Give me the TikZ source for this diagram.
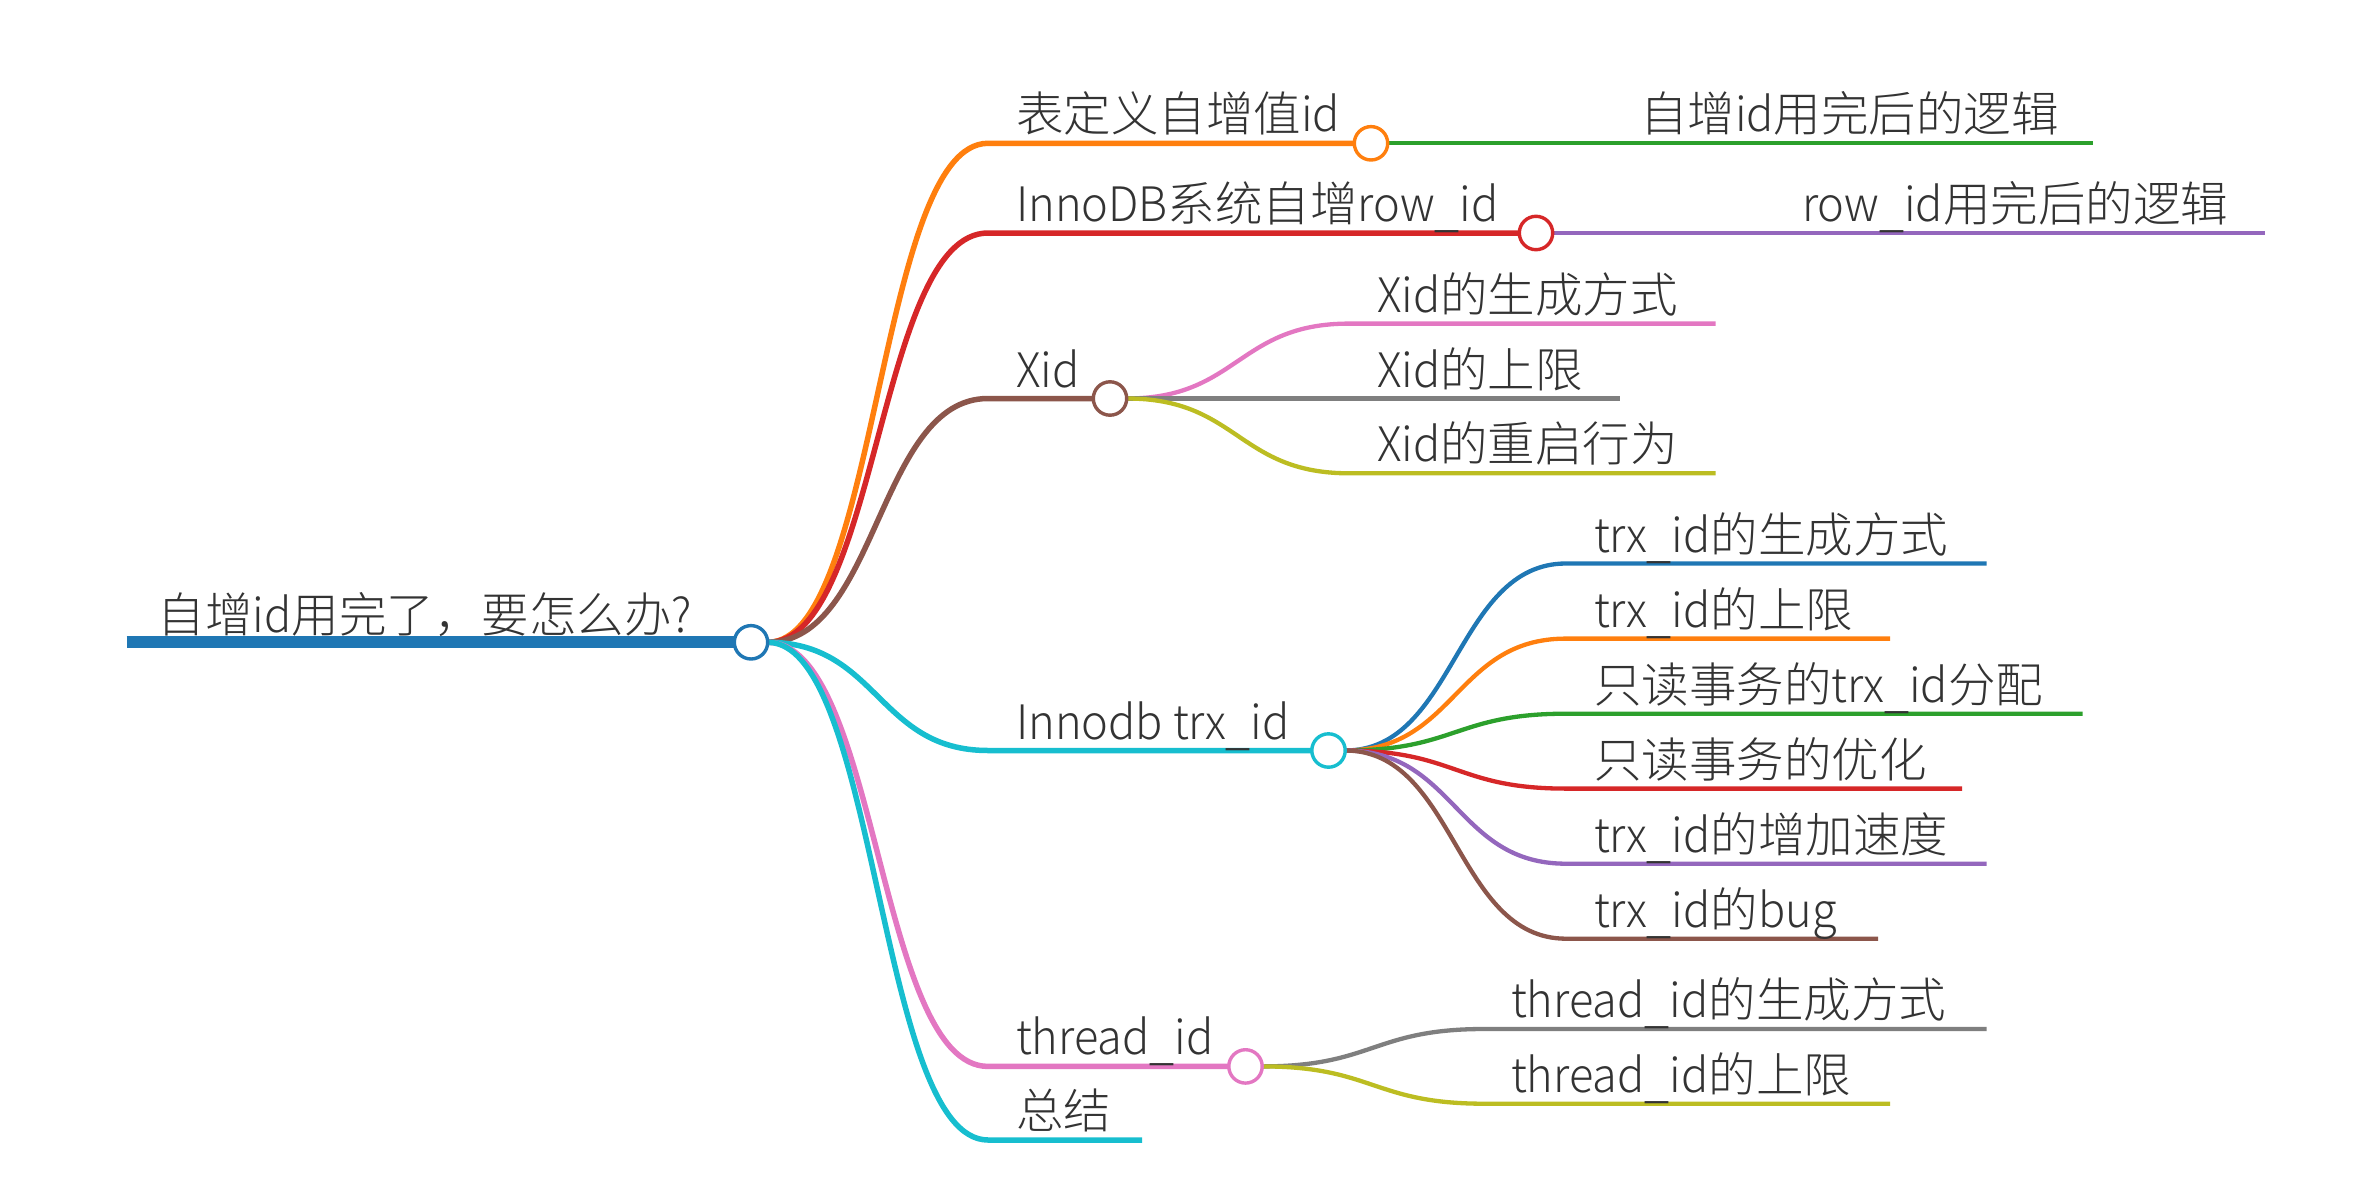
\documentclass[tikz,border=0pt]{standalone}
\usepackage{fontspec}
\IfFontExistsTF{Noto Sans CJK SC Light}{%
  \newfontfamily\cjk{Noto Sans CJK SC Light}%
  \newfontfamily\lat{Noto Sans CJK SC Light}[FakeStretch=0.95]}{%
  \newfontfamily\cjk{Noto Sans CJK SC}%
  \newfontfamily\lat{Noto Sans CJK SC}[FakeStretch=0.95]}
\newcommand\usc{\raisebox{-5pt}{\_}}
\usetikzlibrary{calc,backgrounds}
\definecolor{cblue}{HTML}{1F77B4}
\definecolor{corange}{HTML}{FF7F0E}
\definecolor{cgreen}{HTML}{2CA02C}
\definecolor{cred}{HTML}{D62728}
\definecolor{cpurple}{HTML}{9467BD}
\definecolor{cbrown}{HTML}{8C564B}
\definecolor{cpink}{HTML}{E377C2}
\definecolor{cgray}{HTML}{7F7F7F}
\definecolor{colive}{HTML}{BCBD22}
\definecolor{ccyan}{HTML}{17BECF}
\definecolor{textgray}{HTML}{333333}
\tikzset{
  txt/.style={font=\cjk\fontsize{47.5}{57}\selectfont, text=textgray, anchor=base west, inner sep=0pt, outer sep=0pt},
  dot/.style={circle, draw, fill=white, line width=3.4pt, minimum size=33.4pt, inner sep=0pt, outer sep=0pt},
  lz/.style={line width=11.7pt},
  lone/.style={line width=5.5pt},
  ltwo/.style={line width=4.3pt},
  mmlink/.style={to path={.. controls ($(\tikztostart)!.5!(\tikztotarget |- \tikztostart)$) and ($(\tikztotarget)!.5!(\tikztostart |- \tikztotarget)$) .. (\tikztotarget)}}
}
\begin{document}
\begin{tikzpicture}[x=1pt,y=-1pt]
\useasboundingbox (0,0) rectangle (2368,1199);
% root
\coordinate (r-s) at (126.5,642.3);
\node[dot, draw=cblue] (r) at (751,642.3) {};
\node[txt] (r-t) at (157.7,632.3) {自增{\lat id}用完了，要怎么办{\lat ?}};
% level 1
\coordinate (A-s) at (988,143.3);
\node[dot, draw=corange] (A) at (1371,143.3) {};
\node[txt] (A-t) at (1016,131.8) {表定义自增值{\lat id}};
\coordinate (B-s) at (988,233);
\node[dot, draw=cred] (B) at (1536,233) {};
\node[txt] (B-t) at (1016,221.5) {{\lat InnoDB}系统自增{\lat row\usc id}};
\coordinate (C-s) at (988,398.5);
\node[dot, draw=cbrown] (C) at (1110,398.5) {};
\node[txt] (C-t) at (1016,387) {{\lat Xid}};
\coordinate (D-s) at (988,750.5);
\node[dot, draw=ccyan] (D) at (1328.5,750.5) {};
\node[txt] (D-t) at (1016,739) {{\lat Innodb trx\usc id}};
\coordinate (E-s) at (988,1066.4);
\node[dot, draw=cpink] (E) at (1245.5,1066.4) {};
\node[txt] (E-t) at (1016,1054.9) {{\lat thread\usc id}};
\coordinate (F-s) at (988,1140);
\coordinate (F-e) at (1142,1140);
\node[txt] (F-t) at (1016,1128.5) {总结};
% level 2 : A
\coordinate (A1-s) at (1611,143.3);
\coordinate (A1-e) at (2093,143.3);
\node[txt] (A1-t) at (1640,131.8) {自增{\lat id}用完后的逻辑};
% B
\coordinate (B1-s) at (1774,233);
\coordinate (B1-e) at (2265,233);
\node[txt] (B1-t) at (1802,221.5) {{\lat row\usc id}用完后的逻辑};
% C
\coordinate (C1-s) at (1349,323.6);
\coordinate (C1-e) at (1715.5,323.6);
\node[txt] (C1-t) at (1377,312.1) {{\lat Xid}的生成方式};
\coordinate (C2-s) at (1349,398.5);
\coordinate (C2-e) at (1619.5,398.5);
\node[txt] (C2-t) at (1377,387) {{\lat Xid}的上限};
\coordinate (C3-s) at (1349,473.3);
\coordinate (C3-e) at (1715.5,473.3);
\node[txt] (C3-t) at (1377,461.8) {{\lat Xid}的重启行为};
% D
\coordinate (D1-s) at (1566,563.5);
\coordinate (D1-e) at (1986.6,563.5);
\node[txt] (D1-t) at (1594,552) {{\lat trx\usc id}的生成方式};
\coordinate (D2-s) at (1566,638.6);
\coordinate (D2-e) at (1890,638.6);
\node[txt] (D2-t) at (1594,627.1) {{\lat trx\usc id}的上限};
\coordinate (D3-s) at (1566,713.7);
\coordinate (D3-e) at (2082.7,713.7);
\node[txt] (D3-t) at (1594,702.2) {只读事务的{\lat trx\usc id}分配};
\coordinate (D4-s) at (1566,788.6);
\coordinate (D4-e) at (1962,788.6);
\node[txt] (D4-t) at (1594,777.1) {只读事务的优化};
\coordinate (D5-s) at (1566,863.7);
\coordinate (D5-e) at (1986.6,863.7);
\node[txt] (D5-t) at (1594,852.2) {{\lat trx\usc id}的增加速度};
\coordinate (D6-s) at (1566,938.7);
\coordinate (D6-e) at (1878,938.7);
\node[txt] (D6-t) at (1594,927.2) {{\lat trx\usc id}的{\lat bug}};
% E
\coordinate (E1-s) at (1484,1029);
\coordinate (E1-e) at (1986.6,1029);
\node[txt] (E1-t) at (1511,1017.5) {{\lat thread\usc id}的生成方式};
\coordinate (E2-s) at (1484,1103.7);
\coordinate (E2-e) at (1890,1103.7);
\node[txt] (E2-t) at (1511,1092.2) {{\lat thread\usc id}的上限};

\begin{scope}[on background layer]
% root bar
\draw[lz, cblue] (r-s) -- (r);
% level 1 links and lines
\draw[lone, corange] (r.east) to[mmlink] (A-s) -- (A);
\draw[lone, cred] (r.east) to[mmlink] (B-s) -- (B);
\draw[lone, cbrown] (r.east) to[mmlink] (C-s) -- (C);
\draw[lone, ccyan] (r.east) to[mmlink] (D-s) -- (D);
\draw[lone, cpink] (r.east) to[mmlink] (E-s) -- (E);
\draw[lone, ccyan] (r.east) to[mmlink] (F-s) -- (F-e);
% level 2
\draw[ltwo, cgreen] (A.east) to[mmlink] (A1-s) -- (A1-e);
\draw[ltwo, cpurple] (B.east) to[mmlink] (B1-s) -- (B1-e);
\draw[ltwo, cpink] (C.east) to[mmlink] (C1-s) -- (C1-e);
\draw[ltwo, cgray] (C.east) to[mmlink] (C2-s) -- (C2-e);
\draw[ltwo, colive] (C.east) to[mmlink] (C3-s) -- (C3-e);
\draw[ltwo, cblue] (D.east) to[mmlink] (D1-s) -- (D1-e);
\draw[ltwo, corange] (D.east) to[mmlink] (D2-s) -- (D2-e);
\draw[ltwo, cgreen] (D.east) to[mmlink] (D3-s) -- (D3-e);
\draw[ltwo, cred] (D.east) to[mmlink] (D4-s) -- (D4-e);
\draw[ltwo, cpurple] (D.east) to[mmlink] (D5-s) -- (D5-e);
\draw[ltwo, cbrown] (D.east) to[mmlink] (D6-s) -- (D6-e);
\draw[ltwo, cgray] (E.east) to[mmlink] (E1-s) -- (E1-e);
\draw[ltwo, colive] (E.east) to[mmlink] (E2-s) -- (E2-e);
\end{scope}
\end{tikzpicture}
\end{document}
